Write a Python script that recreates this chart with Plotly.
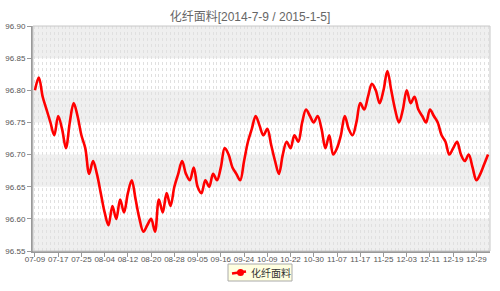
import plotly.graph_objects as go

title_text = "化纤面料[2014-7-9 / 2015-1-5]"
series_name = "化纤面料"

tick_labels = ["07-09", "07-17", "07-25", "08-04", "08-12", "08-20", "08-28", "09-05",
               "09-16", "09-24", "10-09", "10-22", "10-30", "11-07", "11-17", "11-25",
               "12-03", "12-11", "12-19", "12-29"]
tick_step = 6

values = [
    96.80, 96.82, 96.79, 96.77, 96.75, 96.73, 96.76, 96.74, 96.71, 96.75,
    96.78, 96.76, 96.73, 96.71, 96.67, 96.69, 96.67, 96.64, 96.61, 96.59,
    96.62, 96.60, 96.63, 96.61, 96.64, 96.66, 96.63, 96.60, 96.58, 96.59,
    96.60, 96.58, 96.63, 96.61, 96.64, 96.62, 96.65, 96.67, 96.69, 96.67,
    96.66, 96.68, 96.65, 96.64, 96.66, 96.65, 96.67, 96.66, 96.68, 96.71,
    96.70, 96.68, 96.67, 96.66, 96.69, 96.72, 96.74, 96.76, 96.745, 96.73,
    96.74, 96.715, 96.69, 96.67, 96.70, 96.72, 96.71, 96.73, 96.72, 96.75,
    96.77, 96.76, 96.75, 96.76, 96.74, 96.71, 96.73, 96.70, 96.71, 96.73,
    96.76, 96.74, 96.73, 96.75, 96.78, 96.77, 96.79, 96.81, 96.80, 96.78,
    96.80, 96.83, 96.80, 96.77, 96.75, 96.77, 96.80, 96.78, 96.79, 96.77,
    96.76, 96.75, 96.77, 96.76, 96.75, 96.73, 96.72, 96.70, 96.71, 96.72,
    96.70, 96.69, 96.70, 96.68, 96.66, 96.67, 96.685, 96.70,
]

y_min, y_max, y_step = 96.55, 96.90, 0.05

W, H = 500, 291
ML, MR, MT, MB = 33, 10, 26, 40
PW, PH = W - ML - MR, H - MT - MB


def px(xp):
    return (xp - ML) / PW


def py(yp):
    return (H - MB - yp) / PH


x = list(range(len(values)))
tickvals = [i * tick_step for i in range(len(tick_labels))]

fig = go.Figure()
fig.add_trace(go.Scatter(
    x=x, y=values, mode="lines", name=series_name, showlegend=False,
    line=dict(color="#ff0000", width=2.6, shape="spline", smoothing=1.0),
    hoverinfo="skip",
))

# alternating bands
shapes = []
n_bands = int(round((y_max - y_min) / y_step))
for k in range(n_bands):
    if k % 2 == 0:
        lo = y_min + k * y_step
        shapes.append(dict(type="rect", xref="paper", yref="y", x0=0, x1=1,
                           y0=lo, y1=lo + y_step, fillcolor="#efefef",
                           line=dict(width=0), layer="below"))
shapes.append(dict(type="rect", xref="paper", yref="paper", x0=0, x1=1, y0=0, y1=1,
                   line=dict(color="#c8c8c8", width=1), layer="above"))

# legend box (drawn by hand so it sits below the tick labels like the reference)
shapes.append(dict(type="rect", xref="paper", yref="paper",
                   x0=px(228), x1=px(292), y0=py(281), y1=py(264),
                   fillcolor="#ffffe0", line=dict(color="#aaaaaa", width=1), layer="above"))
shapes.append(dict(type="line", xref="paper", yref="paper",
                   x0=px(232), x1=px(246), y0=py(273.5), y1=py(271.5),
                   line=dict(color="#ff0000", width=2.5), layer="above"))
shapes.append(dict(type="circle", xref="paper", yref="paper",
                   x0=px(237), x1=px(244), y0=py(276), y1=py(269),
                   fillcolor="#ff0000", line=dict(color="#ff0000", width=0), layer="above"))

fig.update_layout(
    width=W, height=H,
    margin=dict(l=ML, r=MR, t=MT, b=MB, autoexpand=False),
    paper_bgcolor="white", plot_bgcolor="white",
    shapes=shapes,
    title=dict(text=title_text, x=0.5, xanchor="center", y=1 - 17 / H,
               yanchor="middle", yref="container",
               font=dict(family="Liberation Sans, Noto Sans CJK SC", size=12, color="#666666")),
    font=dict(family="Liberation Sans, Noto Sans CJK SC", size=8, color="#555555"),
    showlegend=False,
    annotations=[dict(text=series_name, xref="paper", yref="paper",
                      x=px(249), y=py(272.5), xanchor="left", yanchor="middle",
                      showarrow=False,
                      font=dict(family="Noto Sans CJK SC", size=10, color="#333333"))],
)

fig.update_xaxes(
    range=[-0.5, len(values) - 0.5],
    tickmode="array", tickvals=tickvals, ticktext=tick_labels, tickangle=0,
    showline=True, linecolor="#999999", linewidth=2,
    ticks="outside", ticklen=4, tickcolor="#999999",
    showgrid=True, gridcolor="#e0e0e0", griddash="dot", gridwidth=1,
    minor=dict(dtick=1, tick0=0, showgrid=True, gridcolor="#e0e0e0", griddash="dot", gridwidth=1),
    zeroline=False, tickfont=dict(size=8, color="#555555"), automargin=False,
)
try:
    fig.update_xaxes(ticklabelstandoff=-5)
except Exception:
    fig.update_xaxes(ticklen=2)
fig.update_yaxes(
    range=[y_min, y_max], dtick=y_step, tick0=y_min, tickformat=".2f",
    showline=True, linecolor="#999999", linewidth=2,
    ticks="outside", ticklen=4, tickcolor="#999999",
    showgrid=False, zeroline=False, tickfont=dict(size=8, color="#555555"), automargin=False,
)

fig.write_html("out.html")
